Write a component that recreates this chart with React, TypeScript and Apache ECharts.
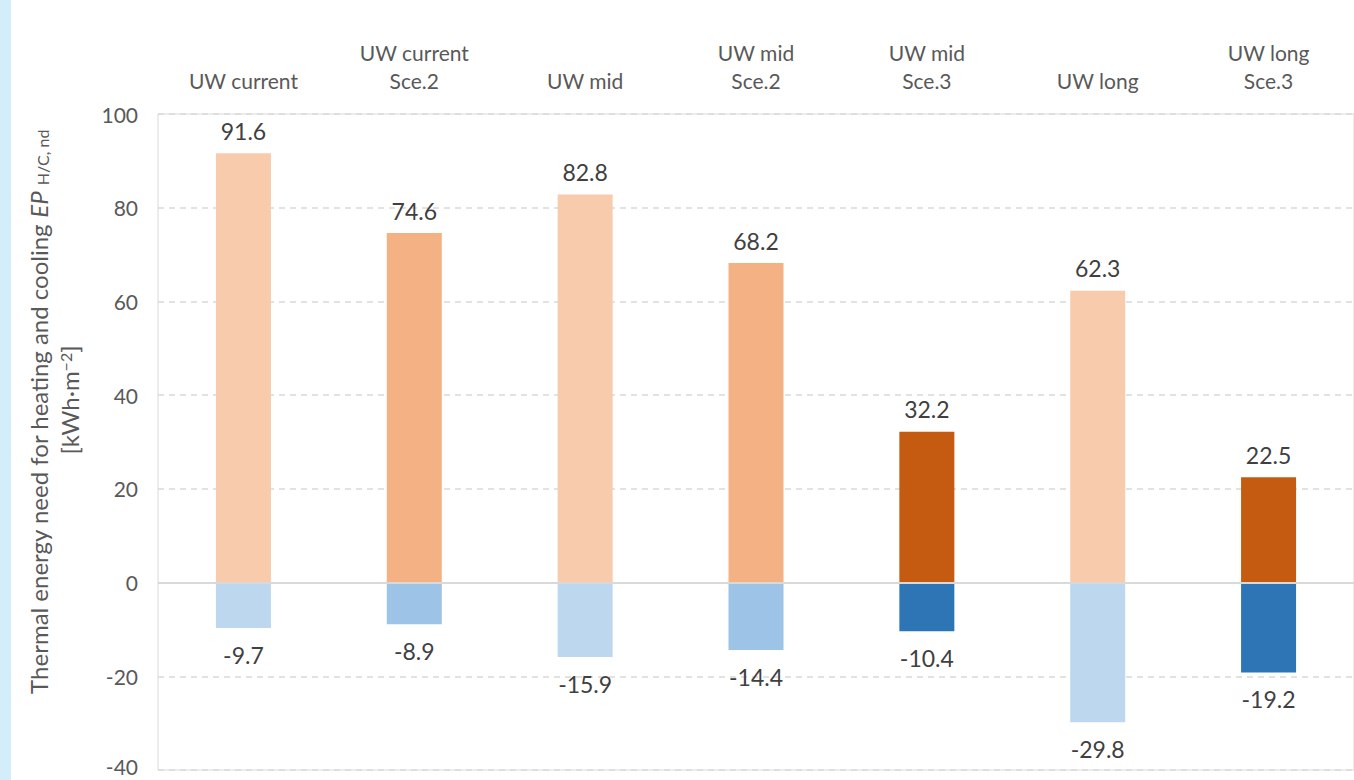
import React, { useEffect, useRef } from "react";
import * as echarts from "echarts";

const categories = [
  "UW current",
  "UW current\nSce.2",
  "UW mid",
  "UW mid\nSce.2",
  "UW mid\nSce.3",
  "UW long",
  "UW long\nSce.3",
];
const heatingValues = [91.6, 74.6, 82.8, 68.2, 32.2, 62.3, 22.5];
const coolingValues = [-9.7, -8.9, -15.9, -14.4, -10.4, -29.8, -19.2];
// shade level per category: 0 = light, 1 = medium, 2 = dark
const shadeLevels = [0, 1, 0, 1, 2, 0, 2];
const heatColors = ["#f8cbad", "#f4b183", "#c55a11"];
const coolColors = ["#bdd7ee", "#9dc3e6", "#2e75b6"];

const FONT = "Lato, 'Open Sans', sans-serif";

export default function App() {
  const ref = useRef<HTMLDivElement>(null);
  useEffect(() => {
    document.body.style.margin = "0";
    if (!ref.current) return;
    const chart = echarts.init(ref.current, null, { renderer: "svg" });
    const option = {
      animation: false,
      textStyle: { fontFamily: FONT },
      grid: {
        left: 158,
        top: 114,
        width: 1211,
        height: 656,
        show: true,
        borderColor: "#d9d9d9",
        borderWidth: 1,
        containLabel: false,
      },
      graphic: [
        {
          type: "rect",
          shape: { x: 0, y: 0, width: 11, height: 780 },
          style: { fill: "#d3eefa" },
          silent: true,
        },
        {
          type: "text",
          x: 36,
          y: 412,
          rotation: Math.PI / 2,
          style: {
            text: "{a|Thermal energy need for heating and cooling }{i|EP}{a| }{s|H/C, nd}",
            align: "center",
            verticalAlign: "middle",
            rich: {
              a: { fontSize: 24, fontFamily: FONT, fill: "#595959", verticalAlign: "bottom", lineHeight: 28 },
              i: { fontSize: 24, fontFamily: FONT, fill: "#595959", fontStyle: "italic", verticalAlign: "bottom", lineHeight: 28 },
              s: { fontSize: 16, fontFamily: FONT, fill: "#595959", verticalAlign: "bottom", lineHeight: 24 },
            },
          },
        },
        {
          type: "text",
          x: 71,
          y: 400,
          rotation: Math.PI / 2,
          style: {
            text: "{a|[kWh·m}{p|−2}{a|]}",
            align: "center",
            verticalAlign: "middle",
            rich: {
              a: { fontSize: 24, fontFamily: FONT, fill: "#595959", verticalAlign: "top", lineHeight: 28 },
              p: { fontSize: 16, fontFamily: FONT, fill: "#595959", verticalAlign: "top", lineHeight: 20 },
            },
          },
        },
      ],
      xAxis: {
        type: "category",
        data: categories,
        position: "top",
        axisLine: { show: false, onZero: false },
        axisTick: { show: false },
        axisLabel: {
          margin: 20,
          fontSize: 21,
          lineHeight: 28,
          color: "#595959",
          fontFamily: FONT,
          interval: 0,
        },
      },
      yAxis: {
        type: "value",
        min: -40,
        max: 100,
        interval: 20,
        axisLine: { show: false },
        axisTick: { show: false },
        axisLabel: {
          fontSize: 21,
          color: "#595959",
          margin: 20,
          fontFamily: FONT,
          formatter: (v: number) => (v === -40 ? "{low|" + v + "}" : String(v)),
          rich: {
            low: { fontSize: 21, color: "#595959", fontFamily: FONT, padding: [0, 0, 8, 0] },
          },
        },
        splitLine: { lineStyle: { color: "#d9d9d9", type: [6, 5], width: 1.5 } },
      },
      series: [
        {
          type: "bar",
          stack: "total",
          barWidth: 55,
          data: heatingValues.map((v, i) => ({ value: v, itemStyle: { color: heatColors[shadeLevels[i]] } })),
          label: {
            show: true,
            position: "top",
            distance: 11,
            fontSize: 23,
            color: "#404040",
            fontFamily: FONT,
            formatter: (p: any) => p.value.toFixed(1),
          },
          markLine: {
            silent: true,
            symbol: "none",
            label: { show: false },
            lineStyle: { color: "#d9d9d9", type: "solid", width: 2 },
            data: [{ yAxis: 0 }],
          },
        },
        {
          type: "bar",
          stack: "total",
          barWidth: 55,
          data: coolingValues.map((v, i) => ({ value: v, itemStyle: { color: coolColors[shadeLevels[i]] } })),
          label: {
            show: true,
            position: "bottom",
            distance: 15,
            fontSize: 23,
            color: "#404040",
            fontFamily: FONT,
            formatter: (p: any) => p.value.toFixed(1),
          },
        },
      ],
    };
    chart.setOption(option as any);
    return () => chart.dispose();
  }, []);
  return <div ref={ref} style={{ width: 1354, height: 780 }} />;
}
